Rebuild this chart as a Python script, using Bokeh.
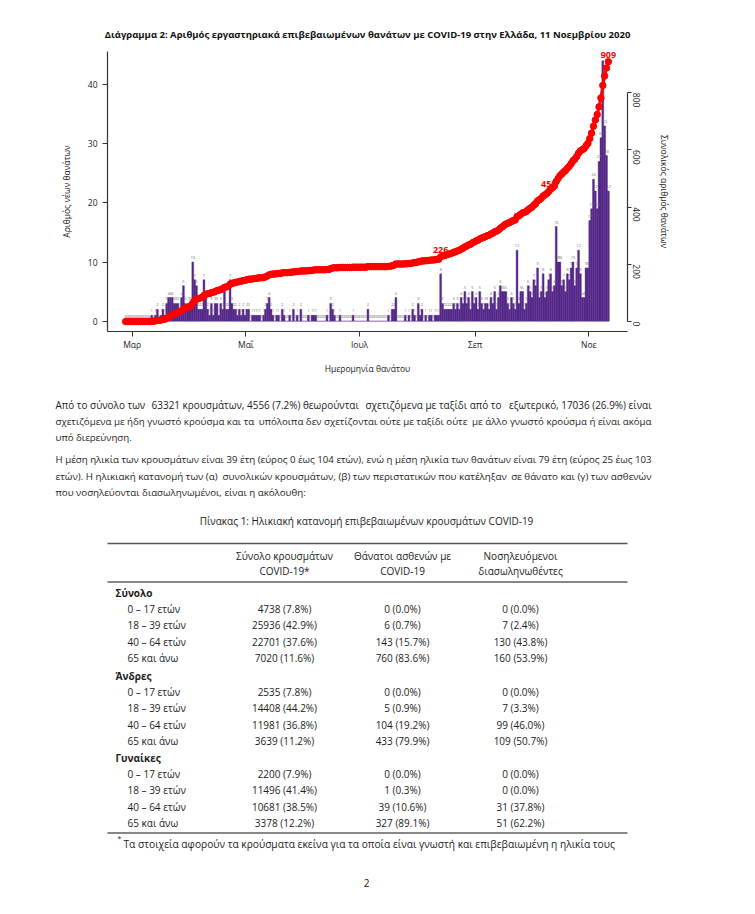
import math
import numpy as np
import pandas as pd
from bokeh.plotting import figure
from bokeh.models import Range1d, LinearAxis, FixedTicker, ColumnDataSource
from bokeh.layouts import column
from bokeh.embed import file_html
from bokeh.resources import INLINE
from bokeh.core.properties import value

# ---------------- data ----------------
start_date = "2020-02-26"
deaths_feb = [0, 0, 0, 0]
deaths_mar = [0, 0, 0, 0, 0, 0, 0, 0, 0, 0, 1, 0, 1, 2, 0, 1, 2, 1, 3, 4,
              4, 4, 3, 3, 3, 2, 4, 6, 3, 2, 3]
deaths_apr = [3, 10, 7, 6, 2, 2, 2, 7, 4, 2, 1, 3, 1, 3, 3, 1, 3, 2, 5, 2,
              2, 7, 3, 2, 2, 1, 2, 1, 2, 1]
deaths_may = [2, 2, 0, 1, 1, 1, 1, 1, 0, 1, 2, 3, 4, 2, 1, 0, 1, 1, 0, 2,
              1, 0, 0, 1, 0, 2, 0, 1, 0, 2, 0]
deaths_jun = [0, 0, 1, 0, 1, 1, 1, 0, 0, 0, 0, 0, 1, 0, 3, 2, 1, 0, 0, 1,
              0, 0, 0, 0, 0, 0, 1, 0, 0, 0]
deaths_jul = [0, 0, 0, 0, 2, 0, 0, 0, 0, 0, 0, 0, 0, 0, 0, 1, 0, 2, 2, 4,
              0, 0, 0, 0, 1, 0, 1, 0, 2, 1, 0]
deaths_aug = [3, 1, 2, 0, 1, 0, 1, 1, 0, 1, 1, 1, 8, 3, 2, 2, 2, 2, 2, 3,
              2, 3, 2, 4, 3, 5, 3, 4, 2, 5, 3]
deaths_sep = [4, 2, 5, 3, 2, 3, 3, 2, 4, 3, 5, 2, 4, 6, 5, 5, 5, 3, 2, 4,
              3, 2, 12, 3, 5, 5, 2, 3, 6, 5]
deaths_oct = [4, 7, 6, 9, 4, 5, 8, 4, 5, 7, 8, 5, 6, 16, 10, 10, 6, 7, 5, 8,
              7, 9, 10, 6, 9, 12, 8, 4, 4, 9, 9]
deaths_nov = [17, 19, 24, 22, 19, 27, 31, 44, 33, 28, 22]

month_ticks = ["2020-03-01", "2020-05-01", "2020-07-01", "2020-09-01", "2020-11-01"]
month_labels = ["Μαρ", "Μαΐ", "Ιουλ", "Σεπ", "Νοε"]
left_ticks = [0, 10, 20, 30, 40]
right_ticks = [0, 200, 400, 600, 800]
labelled_dates = ["2020-08-13", "2020-10-10", "2020-11-11"]

chart_title = ("Διάγραμμα 2: Αριθμός εργαστηριακά επιβεβαιωμένων θανάτων με "
               "COVID-19 στην Ελλάδα, 11 Νοεμβρίου 2020")
left_label = "Αριθμός νέων θανάτων"
right_label = "Συνολικός αριθμός θανάτων"
x_label = "Ημερομηνία θανάτου"

para1 = ["Από το σύνολο των 63321 κρουσμάτων, 4556 (7.2%) θεωρούνται σχετιζόμενα με ταξίδι από το εξωτερικό, 17036 (26.9%) είναι",
         "σχετιζόμενα με ήδη γνωστό κρούσμα και τα υπόλοιπα δεν σχετίζονται ούτε με ταξίδι ούτε με άλλο γνωστό κρούσμα ή είναι ακόμα",
         "υπό διερεύνηση."]
para2 = ["Η μέση ηλικία των κρουσμάτων είναι 39 έτη (εύρος 0 έως 104 ετών), ενώ η μέση ηλικία των θανάτων είναι 79 έτη (εύρος 25 έως 103",
         "ετών). Η ηλικιακή κατανομή των (α) συνολικών κρουσμάτων, (β) των περιστατικών που κατέληξαν σε θάνατο και (γ) των ασθενών",
         "που νοσηλεύονται διασωληνωμένοι, είναι η ακόλουθη:"]

table_caption = "Πίνακας 1: Ηλικιακή κατανομή επιβεβαιωμένων κρουσμάτων COVID-19"
col_headers = [["Σύνολο κρουσμάτων", "COVID-19*"],
               ["Θάνατοι ασθενών με", "COVID-19"],
               ["Νοσηλευόμενοι", "διασωληνωθέντες"]]
groups = ["Σύνολο", "Άνδρες", "Γυναίκες"]
age_groups = ["0 – 17 ετών", "18 – 39 ετών", "40 – 64 ετών", "65 και άνω"]

cases_n = {"Σύνολο": [4738, 25936, 22701, 7020],
           "Άνδρες": [2535, 14408, 11981, 3639],
           "Γυναίκες": [2200, 11496, 10681, 3378]}
cases_pct = {"Σύνολο": [7.8, 42.9, 37.6, 11.6],
             "Άνδρες": [7.8, 44.2, 36.8, 11.2],
             "Γυναίκες": [7.9, 41.4, 38.5, 12.2]}
deaths_n = {"Σύνολο": [0, 6, 143, 760],
            "Άνδρες": [0, 5, 104, 433],
            "Γυναίκες": [0, 1, 39, 327]}
deaths_pct = {"Σύνολο": [0.0, 0.7, 15.7, 83.6],
              "Άνδρες": [0.0, 0.9, 19.2, 79.9],
              "Γυναίκες": [0.0, 0.3, 10.6, 89.1]}
icu_n = {"Σύνολο": [0, 7, 130, 160],
         "Άνδρες": [0, 7, 99, 109],
         "Γυναίκες": [0, 0, 31, 51]}
icu_pct = {"Σύνολο": [0.0, 2.4, 43.8, 53.9],
           "Άνδρες": [0.0, 3.3, 46.0, 50.7],
           "Γυναίκες": [0.0, 0.0, 37.8, 62.2]}
footnote = "Τα στοιχεία αφορούν τα κρούσματα εκείνα για τα οποία είναι γνωστή και επιβεβαιωμένη η ηλικία τους"
page_number = "2"

# ---------------- derived ----------------
deaths = (deaths_feb + deaths_mar + deaths_apr + deaths_may + deaths_jun +
          deaths_jul + deaths_aug + deaths_sep + deaths_oct + deaths_nov)
dates = pd.date_range(start_date, periods=len(deaths), freq="D")
origin = pd.Timestamp("2020-03-01")
xday = [(d - origin).days + 0.5 for d in dates]
cum = [int(v) for v in np.cumsum(deaths)]
src = ColumnDataSource(dict(x=xday, deaths=deaths, cum=cum,
                            lab=[str(v) for v in deaths]))
tick_x = [(pd.Timestamp(t) - origin).days for t in month_ticks]
lab_idx = [list(dates).index(pd.Timestamp(t)) for t in labelled_dates]
lab_src = ColumnDataSource(dict(x=[xday[i] for i in lab_idx],
                                y=[cum[i] for i in lab_idx],
                                t=[str(cum[i]) for i in lab_idx]))

FONT = "Open Sans"
DARK = "#333333"
TXT = "#1c1c1c"
BAR = "#542788"

# ---------------- chart figure ----------------
p = figure(width=747, height=388, output_backend="svg", toolbar_location=None,
           x_range=Range1d(-13.25, 265.76), y_range=Range1d(-1.741, 45.58),
           min_border_left=107, min_border_right=120, min_border_top=51,
           min_border_bottom=57)
p.outline_line_color = None
p.grid.visible = False
p.background_fill_color = "white"
p.border_fill_color = "white"

p.title.text = chart_title
p.title.align = "center"
p.title.offset = 8
p.title.standoff = 21
p.title.text_font = FONT
p.title.text_font_size = "9.5px"
p.title.text_font_style = "bold"
p.title.text_color = "#111111"

p.extra_y_ranges = {"cum": Range1d(-34.98, 944.5)}
ax2 = LinearAxis(y_range_name="cum", ticker=FixedTicker(ticks=right_ticks),
                 bounds=(0, 800), axis_label=right_label)
p.add_layout(ax2, "right")

xa = p.below[0]
ya = p.left[0]
xa.ticker = FixedTicker(ticks=tick_x)
xa.major_label_overrides = {t: l for t, l in zip(tick_x, month_labels)}
xa.axis_label = x_label
ya.ticker = FixedTicker(ticks=left_ticks)
ya.axis_label = left_label

for ax in (xa, ya, ax2):
    ax.axis_line_color = DARK
    ax.axis_line_width = 1.2
    ax.major_tick_line_color = DARK
    ax.minor_tick_line_color = None
    ax.major_tick_out = 5
    ax.major_tick_in = 0
    ax.major_label_text_font = FONT
    ax.major_label_text_font_size = "8.5px"
    ax.major_label_text_color = "#222222"
    ax.axis_label_text_font = FONT
    ax.axis_label_text_font_size = "8.5px"
    ax.axis_label_text_font_style = "normal"
    ax.axis_label_text_color = "#222222"
xa.major_label_standoff = 2
xa.axis_label_standoff = 10
ya.major_label_standoff = 5
ya.axis_label_standoff = 13
ax2.major_tick_out = 4
ax2.major_label_standoff = 5
ax2.major_label_orientation = -math.pi / 2
ax2.axis_label_standoff = 12

p.vbar(x="x", top="deaths", width=1.0, bottom=0, source=src,
       fill_color=BAR, line_color=BAR, line_width=0.4)
p.text(x="x", y="deaths", text="lab", source=src, text_font=value(FONT),
       text_font_size="4px", text_color="#707070", text_align="center",
       text_baseline="bottom", y_offset=-3)
p.line(x="x", y="cum", source=src, y_range_name="cum", line_color="#ff0000",
       line_width=3)
p.scatter(x="x", y="cum", source=src, y_range_name="cum", size=6.5,
          fill_color="#ff0000", line_color="#ff0000")
p.text(x="x", y="y", text="t", source=lab_src, y_range_name="cum",
       text_font=value(FONT), text_font_size="9px", text_font_style="bold",
       text_color="#ff0000", text_align="center", text_baseline="bottom",
       y_offset=-4)

# ---------------- text / table figure ----------------
q = figure(width=747, height=518, output_backend="svg", toolbar_location=None,
           x_range=Range1d(0, 747), y_range=Range1d(906, 388), min_border=0,
           x_axis_location=None, y_axis_location=None)
q.outline_line_color = None
q.grid.visible = False
q.background_fill_color = "white"
q.border_fill_color = "white"


def txt(xs, ys, texts, align="left", size="10px", style="normal", color=TXT):
    q.text(x=xs, y=ys, text=texts, text_font=value(FONT), text_font_size=size,
           text_font_style=style, text_color=color, text_align=align,
           text_baseline="middle")


LEFT, RIGHT = 55, 651


def est_width(s):
    """Rough relative advance width of a string (em units)."""
    w = 0.0
    for ch in s:
        if ch.isdigit():
            w += 0.572
        elif ch == " ":
            w += 0.26
        elif ch in ".,:;":
            w += 0.26
        elif ch in "()":
            w += 0.30
        elif ch == "%":
            w += 0.84
        elif ch in "ιί":
            w += 0.29
        elif ch in "τεέςζξ":
            w += 0.48
        elif ch in "ωώψφμ":
            w += 0.72
        elif ch.isupper():
            w += 0.65
        else:
            w += 0.57
    return w


def justify(line, y, n, size):
    """Spread a justified line over LEFT..RIGHT in n word chunks."""
    w = line.split(" ")
    cuts = [round(len(w) * k / n) for k in range(n + 1)]
    chunks = [" ".join(w[cuts[k]:cuts[k + 1]]) for k in range(n)]
    total = est_width(line)
    pos = 0.0
    for k, ch in enumerate(chunks):
        cw = est_width(ch)
        if k == 0:
            txt([LEFT], [y], [ch], "left", size)
        elif k == n - 1:
            txt([RIGHT], [y], [ch], "right", size)
        else:
            c = LEFT + (pos + cw / 2) / total * (RIGHT - LEFT)
            txt([c], [y], [ch], "center", size)
        pos += cw + est_width(" ")


line_setup = {(0, 0): (4, "9.95px"), (0, 1): (3, "9.7px"),
              (1, 0): (2, "9.7px"), (1, 1): (3, "9.8px")}
for pi, (lines, y0) in enumerate(((para1, 404), (para2, 459))):
    for i, line in enumerate(lines):
        y = y0 + i * 16.5
        if i < len(lines) - 1:
            n, size = line_setup[(pi, i)]
            justify(line, y, n, size)
        else:
            txt([LEFT], [y], [line], "left", "9.7px")

txt([366], [520], [table_caption], "center", "10px")

col_x = [284, 402, 520]
hx, hy, ht = [], [], []
for cx, hdr in zip(col_x, col_headers):
    for j, h in enumerate(hdr):
        hx.append(cx); hy.append(555 + j * 15.5); ht.append(h)
txt(hx, hy, ht, "center", "10px")

q.segment(x0=[107], y0=[543], x1=[627], y1=[543], line_color="#555555", line_width=1.6)
q.segment(x0=[107, 107], y0=[581.5, 832.5], x1=[627, 627], y1=[581.5, 832.5],
          line_color="#111111", line_width=1)

group_y = [592, 675, 757]
gx, gy, gt = [], [], []
rlx, rly, rlt = [], [], []
vx, vy, vt = [], [], []
for g, y0 in zip(groups, group_y):
    gx.append(115); gy.append(y0); gt.append(g)
    for k, age in enumerate(age_groups):
        y = y0 + 16 + k * 16.5
        rlx.append(127); rly.append(y); rlt.append(age)
        cells = [f"{cases_n[g][k]} ({cases_pct[g][k]:.1f}%)",
                 f"{deaths_n[g][k]} ({deaths_pct[g][k]:.1f}%)",
                 f"{icu_n[g][k]} ({icu_pct[g][k]:.1f}%)"]
        for cx, c in zip(col_x, cells):
            vx.append(cx); vy.append(y); vt.append(c)
txt(gx, gy, gt, "left", "10px", "bold")
txt(rlx, rly, rlt, "left", "10px")
txt(vx, vy, vt, "center", "10px")

txt([119], [838], ["*"], "center", "7px")
txt([123], [843], [footnote], "left", "10.2px")
txt([366], [882], [page_number], "center", "10px")

for fig in (p, q):
    try:
        fig.frame_align = False
    except Exception:
        pass

layout = column(p, q)
open("out.html", "w").write(file_html(layout, INLINE))
